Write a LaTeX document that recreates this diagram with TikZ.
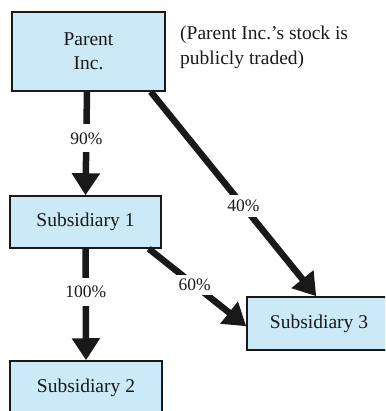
\documentclass[tikz,border=0pt]{standalone}
\usepackage{fontspec}
\setmainfont{Liberation Serif}
\usetikzlibrary{arrows.meta}
\definecolor{boxfill}{RGB}{203,233,247}
\definecolor{ink}{RGB}{25,25,25}
\begin{document}
\begin{tikzpicture}[x=1pt,y=1pt,
  box/.style={draw=ink,line width=1.5pt,fill=boxfill,text=ink,
    font=\fontsize{19.5}{24}\selectfont,inner sep=0pt,align=center},
  link/.style={draw=ink,line width=6.5pt,-{Triangle[length=22pt,width=27pt]}},
  pct/.style={fill=white,text=ink,font=\fontsize{17.5}{20}\selectfont,inner xsep=3pt,inner ysep=8pt},
  note/.style={text=ink,font=\fontsize{19.5}{25}\selectfont,align=left,inner sep=0pt}]
\useasboundingbox (0,0) rectangle (385,-411);
\clip (0,0) rectangle (385,-411);
\fill[white] (0,0) rectangle (385,-411);
% boxes
\node[box,minimum width=153pt,minimum height=79pt] (p) at (88.5,-51.5) {Parent\\Inc.};
\node[box,minimum width=151pt,minimum height=52pt] (s1) at (85.5,-222) {Subsidiary 1};
\node[box,minimum width=152pt,minimum height=54pt] (s2) at (86,-388) {Subsidiary 2};
\node[box,minimum width=144pt,minimum height=53pt] (s3) at (319,-323.5) {Subsidiary 3};
% note
\node[note,anchor=north west] (n) at (180,-26) {(Parent Inc.’s stock is\\publicly traded)};
% connectors
\draw[link] ([xshift=-1.5pt]p.south) -- node[pct,pos=0.45] (l90) {90\%} (s1.north);
\draw[link] ([xshift=-15pt]p.south east) -- node[pct,pos=0.56,inner ysep=5pt] (l40) {40\%} ([xshift=70pt]s3.north west);
\draw[link] (s1.south) -- node[pct,pos=0.39] (l100) {100\%} (s2.north);
\draw[link] ([xshift=-13pt]s1.south east) -- node[pct,pos=0.47,inner ysep=4pt] (l60) {60\%} ([yshift=-30pt]s3.north west);
\end{tikzpicture}
\end{document}
